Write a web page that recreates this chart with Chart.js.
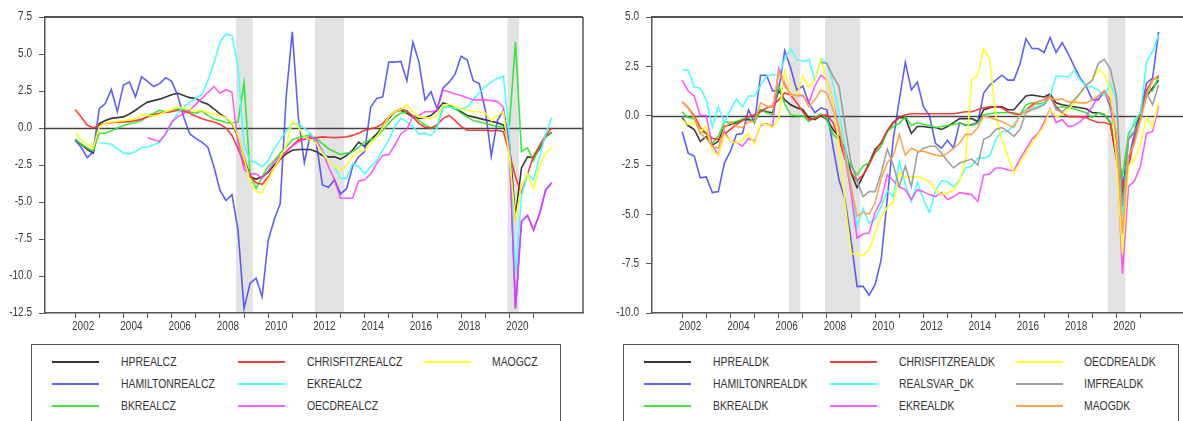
<!DOCTYPE html>
<html>
<head>
<meta charset="utf-8">
<script src="https://cdn.jsdelivr.net/npm/chart.js@4.4.1/dist/chart.umd.min.js"></script>
<style>
  html, body { margin: 0; padding: 0; background: #fff; }
  body { width: 1183px; height: 421px; overflow: hidden; position: relative;
         font-family: "Liberation Sans", Arial, sans-serif; }
  .panel { position: absolute; top: 0; width: 600px; height: 340px; }
  .legend { position: absolute; top: 344px; height: 110px; border: 1.5px solid #555; box-sizing: border-box; }
  .legend .swatch { position: absolute; width: 47px; height: 2px; }
  .legend .name { position: absolute; font-size: 13px; line-height: 14px; color: #333; white-space: nowrap;
                  transform: scaleX(0.8); transform-origin: left center; }
</style>
</head>
<body>
<div class="panel" style="left:0"><canvas id="czChart" width="600" height="340"></canvas></div>
<div class="panel" style="left:607px"><canvas id="dkChart" width="600" height="340"></canvas></div>
<div class="legend" id="czLegend" style="left:31px;width:530px"></div>
<div class="legend" id="dkLegend" style="left:623px;width:556px"></div>

<script>
// quarterly, 2002Q1 .. 2021Q4
const quarters = Array.from({ length: 80 }, (_, i) => 2002 + i / 4);
const yearTicks = Array.from({ length: 20 }, (_, i) => 2002 + i);

// ---- Czech output gap estimates ----
const hpCZ = [
  -0.82, -1.1, -1.45, -1.7, 0.3, 0.5, 0.65, 0.7, 0.75, 0.95,
  1.2, 1.5, 1.75, 1.85, 1.95, 2.1, 2.25, 2.35, 2.2, 2.05,
  2.0, 1.75, 1.6, 1.3, 0.95, 0.7, 0.3, -0.6, -2.0, -3.3,
  -3.45, -3.3, -3.0, -2.5, -2.1, -1.75, -1.5, -1.45, -1.45, -1.45,
  -1.6, -1.85, -1.95, -1.95, -2.1, -1.85, -1.5, -0.95, -1.25, -0.8,
  -0.4, 0.1, 0.65, 1.1, 1.2, 1.0, 0.75, 0.65, 0.7, 0.85,
  1.2, 1.7, 1.55, 1.3, 1.1, 0.85, 0.75, 0.65, 0.55, 0.45,
  0.35, 0.2, -1.05, -6.0, -2.7, -1.95, -2.0, -1.4, -0.6, -0.3
];
const hamiltonCZ = [
  -0.83, -1.3, -2.0, -1.6, 1.3, 1.65, 2.6, 1.1, 2.9, 3.1,
  2.1, 3.45, 3.15, 2.8, 3.0, 3.4, 3.15, 2.2, 0.75, -0.4,
  -0.7, -0.95, -1.3, -2.6, -4.2, -4.9, -4.5, -6.9, -12.2, -10.5,
  -10.15, -11.4, -7.6, -6.2, -5.1, 2.2, 6.5, 0.75, -2.35, -0.4,
  -1.05, -3.85, -4.0, -3.5, -4.45, -4.1, -2.6, -1.95, -1.6, 1.4,
  2.0, 2.1, 4.45, 4.45, 4.5, 3.2, 5.8, 4.45, 1.9, 2.45,
  1.3, 2.7, 3.1, 3.65, 4.85, 4.6, 3.2, 3.0, 1.2, -1.9,
  0.5, 1.2, -1.0, -12.2, -6.3, -5.9, -6.9, -5.8, -4.2, -3.7
];
const bkCZ = [
  -0.75, -1.1, -1.35, -1.55, -0.35, -0.35, -0.2, 0.0, 0.15, 0.3,
  0.35, 0.5, 0.8, 1.0, 1.2, 1.1, 1.2, 1.3, 1.25, 1.1,
  1.0, 1.15, 0.85, 0.6, 0.5, 0.35, 0.35, 0.4, 3.05, -3.1,
  -4.1, -3.3, -2.6, -2.2, -1.7, -1.3, -0.8, -0.65, -0.55, -0.5,
  -0.7, -1.05, -1.4, -1.6, -1.8, -1.7, -1.6, -1.3, -0.95, -0.8,
  -0.6, -0.15, 0.3, 0.75, 1.0, 1.1, 0.85, 0.5, 0.2, 0.0,
  0.05, 1.4, 1.45, 1.3, 1.0, 0.75, 0.5, 0.4, 0.3, 0.2,
  0.1, 0.05, 0.2, 5.8, -1.6, -1.35, -2.2, -1.3, -0.6, -0.35
];
const chrisfitzCZ = [
  1.25, 0.75, 0.2, 0.0, 0.2, 0.3, 0.35, 0.4, 0.4, 0.45,
  0.5, 0.6, 0.75, 0.9, 1.0, 1.05, 1.1, 1.2, 1.15, 1.0,
  0.8, 0.65, 0.5, 0.4, 0.25, 0.0, -0.5, -1.4, -2.4, -3.2,
  -3.7, -3.8, -3.3, -2.7, -2.1, -1.6, -1.2, -0.8, -0.75, -0.7,
  -0.65, -0.6, -0.62, -0.65, -0.62, -0.6, -0.5, -0.35, -0.15, -0.05,
  0.05, 0.3, 0.75, 1.1, 1.3, 1.15, 0.75, 0.3, 0.05, 0.0,
  0.2, 0.65, 0.85, 0.5, 0.1, -0.15, -0.15, -0.15, -0.15, -0.2,
  -0.15, -0.25, -1.7, -3.3, -4.4, -3.1, -1.9, -1.2, -0.5, 0.0
];
const ekCZ = [
  null, null, null, null, -1.0, -1.05, -1.1, -1.4, -1.7, -1.75,
  -1.6, -1.3, -1.3, -1.15, -0.95, -0.4, 0.3, 1.0, 1.4, 1.75,
  2.0, 2.25, 3.2, 4.35, 5.8, 6.35, 6.25, 4.1, -1.15, -2.2,
  -2.35, -2.6, -2.2, -1.4, -0.8, -0.2, 0.25, 0.3, 0.0, -0.4,
  -0.95, -1.5, -2.2, -2.6, -3.4, -3.4, -2.4, -2.6, -3.1, -2.6,
  -2.2, -1.5, -0.8, 0.1, 0.65, 0.4, 0.1, -0.4, -0.35, -0.5,
  0.0, 1.4, 1.45, 1.3, 1.3, 1.4, 1.9, 2.4, 2.8, 3.1,
  3.35, 3.5, -0.5, -10.0, -4.6, -3.1, -3.5, -1.95, -0.4, 0.7
];
const oecdCZ = [
  null, null, null, null, null, null, null, null, null, null,
  null, null, -0.65, -0.8, -0.9, -0.4, 0.4, 0.75, 1.0, 1.2,
  1.6, 2.0, 2.4, 2.8, 2.35, 2.6, 2.4, -1.0, -2.8, -3.1,
  -3.1, -3.4, -2.9, -2.3, -1.9, -1.6, -1.2, -0.95, -0.75, -0.6,
  -0.8, -1.6, -2.6, -3.5, -4.75, -4.75, -4.75, -3.6, -3.5, -3.1,
  -2.4, -1.85, -1.8, -1.15, -0.4, -0.1, 0.8, 0.85, 1.1, 1.1,
  1.2, 2.55, 2.45, 2.3, 2.2, 2.05, 1.9, 1.9, 1.9, 1.85,
  1.8, 1.4, -1.5, -12.2, -6.3, -5.9, -6.9, -5.8, -4.2, -3.7
];
const maogCZ = [
  -0.3, -0.8, -1.1, -1.35, 0.1, 0.3, 0.4, 0.45, 0.5, 0.55,
  0.6, 0.9, 0.85, 0.8, 0.9, 1.1, 1.25, 1.4, 1.35, 1.25,
  1.15, 1.2, 1.05, 0.95, 0.85, 0.7, 0.35, -0.5, -2.0, -3.6,
  -4.3, -4.4, -3.5, -2.7, -2.0, -1.2, 0.45, 0.1, -0.6, -0.8,
  -1.05, -1.7, -2.2, -2.6, -2.85, -2.5, -1.95, -1.6, -1.5, -1.05,
  -0.6, 0.05, 0.75, 1.1, 1.25, 1.55, 1.1, 0.75, 0.7, 0.65,
  0.85, 1.55, 1.6, 1.45, 1.3, 1.2, 1.1, 1.1, 1.0, 0.5,
  0.85, 1.1, -1.95, -6.2, -3.85, -3.1, -4.1, -2.6, -1.7, -1.3
];

// ---- Danish output gap estimates ----
const hpDK = [
  -0.1, -0.5, -0.7, -1.3, -1.05, -1.5, -1.3, -0.55, -0.45, -0.35,
  -0.2, -0.2, -0.25, 0.3, 0.2, 0.15, 1.3, 0.8, 0.55, 0.4,
  0.3, -0.1, -0.2, 0.0, -0.2, -0.7, -1.05, -1.7, -2.9, -3.65,
  -3.05, -2.4, -1.7, -1.4, -0.8, -0.35, -0.1, -0.1, -0.9, -0.55,
  -0.55, -0.6, -0.6, -0.7, -0.55, -0.35, -0.15, -0.15, -0.15, -0.3,
  0.3, 0.4, 0.45, 0.45, 0.3, 0.3, 0.65, 1.0, 1.05, 1.0,
  0.95, 1.1, 0.65, 0.55, 0.5, 0.45, 0.4, 0.35, 0.15, 0.15,
  0.05, -0.35, -2.2, -4.1, -1.2, -0.8, 0.15, 1.0, 1.4, 1.8
];
const hamiltonDK = [
  -0.8, -1.9, -2.05, -3.15, -3.1, -3.9, -3.85, -2.4, -1.8, -0.95,
  -0.9, 0.3, -0.35, 2.05, 2.05, 1.25, 1.3, 3.3, 2.4, 1.3,
  1.5, 0.65, 0.15, 0.4, 0.3, -1.55, -3.25, -4.25, -6.3, -8.65,
  -8.65, -9.1, -8.55, -7.3, -4.25, -1.2, 0.8, 2.7, 1.3, 1.7,
  0.45, 0.0, -1.4, -1.65, -1.25, -1.65, -0.35, -0.5, -0.45, -0.35,
  1.15, 1.55, 1.8, 2.05, 1.8, 1.8, 2.6, 3.9, 3.4, 3.4,
  3.2, 3.95, 3.2, 3.7, 3.15, 2.5, 1.9, 1.5, 0.8, 0.8,
  1.25, 0.45, -1.2, -3.5, -2.2, -0.9, 0.2, 1.65, 1.9, 4.25
];
const bkDK = [
  0.2, -0.1, -0.15, -0.8, -0.9, -1.4, -1.05, -0.3, -0.35, -0.3,
  -0.2, -0.1, -0.35, 0.3, 0.15, 0.05, 1.5, 0.6, 0.05, 0.0,
  0.0, -0.3, -0.1, 0.1, -0.2, -0.95, -1.2, -2.0, -2.55, -3.0,
  -2.55, -2.4, -1.9, -1.55, -0.8, -0.55, -0.4, -0.05, -0.5, -0.35,
  -0.45, -0.5, -0.6, -0.55, -0.5, -0.45, -0.4, -0.45, -0.5, -0.4,
  0.05, 0.1, 0.15, 0.15, 0.15, 0.15, 0.05, 0.55, 0.65, 0.6,
  0.65, 1.0, 0.4, 0.45, 0.4, 0.35, 0.25, 0.15, -0.1, 0.15,
  0.05, -0.35, -1.9, -3.05, -0.9, -0.45, 0.15, 1.25, 1.25, 2.0
];
const chrisfitzDK = [
  0.7, 0.4, 0.0, -0.6, -0.9, -1.15, -1.2, -0.95, -0.7, -0.45,
  -0.25, -0.05, 0.05, 0.2, 0.4, 0.5, 0.8, 1.15, 1.05, 0.65,
  0.2, -0.2, -0.15, 0.0, 0.05, -0.35, -1.2, -2.2, -2.9, -3.3,
  -3.0, -2.5, -1.8, -1.35, -0.75, -0.35, -0.1, 0.05, 0.1, 0.1,
  0.1, 0.1, 0.1, 0.1, 0.1, 0.1, 0.15, 0.2, 0.2, 0.3,
  0.4, 0.45, 0.45, 0.4, 0.2, 0.1, 0.05, 0.3, 0.55, 0.7,
  0.8, 1.05, 0.45, 0.15, -0.05, -0.05, -0.05, -0.1, -0.25, -0.35,
  -0.35, -0.45, -2.05, -3.6, -2.55, -1.2, 0.0, 1.3, 1.8, 2.0
];
const realsvarDK = [
  2.3, 2.3, 1.45, 1.4, 0.8, -0.6, 0.45, -0.35, 0.3, 0.85,
  0.45, 1.0, 1.0, 1.55, 2.0, 2.1, 2.0, 2.9, 3.35, 2.85,
  2.75, 2.85, 1.8, 2.9, 2.65, 1.65, 0.15, -1.55, -3.6, -5.6,
  -4.7, -5.45, -5.25, -4.6, -3.8, -4.1, -2.3, -3.5, -4.35, -3.4,
  -4.25, -4.9, -3.8, -3.3, -3.35, -3.6, -3.25, -2.65, -2.55, -2.15,
  -2.15, -2.05, -1.2, -0.8, -0.8, -0.45, 0.0, 0.3, 0.4, 0.45,
  0.65, 1.0, 2.0, 2.0, 1.95, 2.3, 1.8, 1.5, 1.45, 1.3,
  1.0, 1.65, 0.8, -5.1, -1.2, -0.2, 0.15, 2.75, 3.25, 4.1
];
const ekDK = [
  1.8, 1.25, 1.0, 0.0, 0.0, -1.5, -2.0, -0.8, -1.3, -1.35,
  -1.55, -1.15, -1.3, -0.5, -0.4, -0.55, 2.4, 1.65, 1.05, 1.05,
  1.0, 0.65, 1.5, 2.05, 1.8, 0.8, -0.7, -2.05, -3.9, -6.2,
  -6.0, -5.95, -4.9, -4.3, -3.0, -3.3, -3.6, -3.75, -4.25, -3.75,
  -3.85, -4.0, -4.1, -3.9, -4.25, -4.1, -3.9, -3.95, -4.0, -4.35,
  -3.0, -2.95, -2.65, -2.65, -2.75, -2.8, -2.2, -1.7, -1.2, -0.9,
  -0.35, 0.35, -0.35, -0.2, -0.55, -0.5, -0.3, 0.0, 0.45, 1.0,
  1.25, 0.8, -1.2, -8.0, -3.6, -3.3, -2.55, -0.9, -0.8, 0.5
];
const oecdDK = [
  -0.2, -0.45, -0.3, -0.8, -0.55, -1.8, -2.0, -0.95, -1.3, -1.4,
  -1.2, -0.9, -1.45, -0.4, -0.45, -0.6, -0.2, 2.25, 1.05, 1.0,
  2.0, 1.45, 1.8, 2.85, 1.8, 0.8, -1.4, -4.4, -7.0, -7.0,
  -7.1, -6.8, -5.95, -5.1, -4.65, -4.4, -2.9, -3.1, -3.1, -3.1,
  -3.2, -3.35, -3.75, -4.0, -3.9, -3.8, -3.3, -2.2, 1.8, 2.05,
  3.4, 2.85, 0.0, -1.2, -2.05, -2.9, -2.4, -1.9, -1.4, -0.95,
  -0.55, 0.3, -0.05, 0.05, 0.3, 0.65, 1.15, 1.55, 1.8, 2.35,
  2.1, 1.35, -2.2, -7.0, -2.55, -2.2, -1.4, -0.1, -0.55, 0.65
];
const imfDK = [
  null, null, null, null, null, null, null, null, null, null,
  null, null, null, null, null, null, null, null, null, null,
  null, null, null, 2.7, 2.65, 2.0, 1.5, -0.5, -2.4, -3.3,
  -4.1, -3.85, -3.85, -2.9, -1.7, -2.5, -3.6, -2.55, -3.6, -1.9,
  -1.65, -1.55, -1.55, -1.9, -2.3, -2.65, -2.4, -2.3, -2.2, -2.5,
  -1.2, -1.05, -0.7, -0.6, -0.8, -1.05, -0.7, 0.15, 0.3, 0.4,
  0.55, 1.0, 0.3, 0.2, 0.45, 0.8, 1.15, 1.55, 1.8, 2.65,
  2.85, 2.35, 1.0, -4.6, -1.2, -0.8, -0.2, 1.15, 0.55, 1.55
];
const maogDK = [
  0.7, 0.4, -0.1, -0.9, -1.15, -1.55, -1.65, -0.6, -0.35, -0.55,
  -0.6, -0.3, -0.3, 0.65, 0.5, 0.4, 2.25, 1.5, 1.1, 1.0,
  1.05, 0.45, 0.8, 1.3, 1.15, 0.3, -0.55, -2.05, -3.6, -5.1,
  -4.9, -5.0, -4.4, -3.2, -2.4, -2.05, -0.95, -2.0, -1.65, -1.8,
  -1.8, -1.9, -2.0, -2.05, -1.9, -1.65, -1.4, -0.95, -0.95, -0.6,
  0.0, -0.1, -0.2, -0.3, -0.45, -0.6, 0.0, 0.2, 0.45, 0.7,
  0.8, 0.9, 0.8, 0.85, 0.7, 0.7, 0.65, 0.65, 0.8, 1.0,
  1.25, 0.65, -0.9, -6.0, -2.05, -1.4, -0.2, 1.0, 1.8, 2.05
];

// shaded periods (start, end) in years
const recessionsCZ = [[2008.67, 2009.37], [2011.94, 2013.14], [2019.92, 2020.40]];
const recessionsDK = [[2006.42, 2006.90], [2007.92, 2009.38], [2019.64, 2020.37]];

const colors = {
  hp: 'rgba(20,20,20,0.85)', hamilton: 'rgba(60,60,245,0.82)', bk: 'rgba(40,230,40,0.9)',
  chrisfitz: 'rgba(255,40,40,0.9)', ek: 'rgba(70,255,255,0.95)', oecd: 'rgba(255,50,255,0.8)',
  maog: 'rgba(255,255,30,0.95)', imf: 'rgba(150,150,150,0.9)', orange: 'rgba(255,160,70,0.95)'
};

// column-major legend order; col/row computed from index
const seriesCZ = [
  { name: 'HPREALCZ', data: hpCZ, color: colors.hp },
  { name: 'HAMILTONREALCZ', data: hamiltonCZ, color: colors.hamilton },
  { name: 'BKREALCZ', data: bkCZ, color: colors.bk },
  { name: 'CHRISFITZREALCZ', data: chrisfitzCZ, color: colors.chrisfitz },
  { name: 'EKREALCZ', data: ekCZ, color: colors.ek },
  { name: 'OECDREALCZ', data: oecdCZ, color: colors.oecd },
  { name: 'MAOGCZ', data: maogCZ, color: colors.maog },
];
const seriesDK = [
  { name: 'HPREALDK', data: hpDK, color: colors.hp },
  { name: 'HAMILTONREALDK', data: hamiltonDK, color: colors.hamilton },
  { name: 'BKREALDK', data: bkDK, color: colors.bk },
  { name: 'CHRISFITZREALDK', data: chrisfitzDK, color: colors.chrisfitz },
  { name: 'REALSVAR_DK', data: realsvarDK, color: colors.ek },
  { name: 'EKREALDK', data: ekDK, color: colors.oecd },
  { name: 'OECDREALDK', data: oecdDK, color: colors.maog },
  { name: 'IMFREALDK', data: imfDK, color: colors.imf },
  { name: 'MAOGDK', data: maogDK, color: colors.orange },
];

const FONT = '"Liberation Sans", Arial, sans-serif';
Chart.defaults.font.family = FONT;

const framePlugin = {
  id: 'frame',
  beforeDatasetsDraw(chart, args, opts) {
    const { ctx, chartArea: a, scales: { x, y } } = chart;
    ctx.save();
    ctx.fillStyle = '#e2e2e2';
    opts.bands.forEach(([s, e]) => {
      const x0 = x.getPixelForValue(s), x1 = x.getPixelForValue(e);
      ctx.fillRect(x0, a.top + 1, x1 - x0, a.bottom - a.top - 2);
    });
    const y0 = Math.round(y.getPixelForValue(0)) + 0.5;
    ctx.strokeStyle = '#444';
    ctx.lineWidth = 1.5;
    ctx.beginPath();
    ctx.moveTo(a.left, y0);
    ctx.lineTo(a.right, y0);
    ctx.stroke();
    ctx.restore();
  },
  afterDraw(chart) {
    const { ctx, chartArea: a, scales: { x, y } } = chart;
    ctx.save();
    ctx.strokeStyle = '#555';
    ctx.lineWidth = 2;
    ctx.beginPath();
    ctx.moveTo(a.left, a.top);
    ctx.lineTo(a.right, a.top);
    ctx.stroke();
    ctx.lineWidth = 1.5;
    ctx.beginPath();
    ctx.moveTo(a.right, a.top);
    ctx.lineTo(a.right, a.bottom);
    ctx.stroke();

    // narrow tick labels (EViews style)
    ctx.fillStyle = '#3a3a3a';
    ctx.font = '12.5px ' + FONT;
    ctx.textBaseline = 'middle';
    ctx.textAlign = 'right';
    y.ticks.forEach(t => {
      ctx.save();
      ctx.translate(y.right - 13, y.getPixelForValue(t.value));
      ctx.scale(0.8, 1);
      ctx.fillText(t.value.toFixed(1), 0, 0);
      ctx.restore();
    });
    ctx.textAlign = 'center';
    x.ticks.forEach(t => {
      if (t.value % 2 !== 0) return;
      ctx.save();
      ctx.translate(x.getPixelForValue(t.value) + 8, x.top + 14);
      ctx.scale(0.8, 1);
      ctx.fillText(String(t.value), 0, 0);
      ctx.restore();
    });
    ctx.restore();
  }
};

function makeChart(id, series, yMin, yMax, bands) {
  const datasets = series.map((s, i) => ({
    label: s.name,
    data: quarters.map((q, k) => ({ x: q, y: s.data[k] })),
    borderColor: s.color,
    borderWidth: 1.6,
    pointRadius: 0,
    tension: 0,
    fill: false,
    order: series.length - i,
  }));

  return new Chart(document.getElementById(id), {
    type: 'line',
    data: { datasets },
    options: {
      responsive: false,
      animation: false,
      events: [],
      layout: { padding: { top: 17, right: 17, left: 0, bottom: 0 } },
      plugins: { legend: { display: false }, tooltip: { enabled: false }, frame: { bands } },
      scales: {
        x: {
          type: 'linear',
          min: 2000.75,
          max: 2023.05,
          afterBuildTicks: scale => { scale.ticks = yearTicks.map(v => ({ value: v })); },
          afterFit: scale => { scale.height = 27; },
          grid: { drawOnChartArea: false, drawTicks: true, tickLength: 5, color: '#555' },
          border: { color: '#555', width: 1.5 },
          ticks: { display: false },
        },
        y: {
          min: yMin,
          max: yMax,
          afterFit: scale => { scale.width = 45; },
          grid: { drawOnChartArea: false, drawTicks: true, tickLength: 6, color: '#555' },
          border: { color: '#555', width: 1.5 },
          ticks: { stepSize: 2.5, display: false },
        },
      },
    },
    plugins: [framePlugin],
  });
}

function buildLegend(id, series) {
  const box = document.getElementById(id);
  series.forEach((s, i) => {
    const col = Math.floor(i / 3), row = i % 3;
    const cy = 17 + row * 21.8;
    const sw = document.createElement('div');
    sw.className = 'swatch';
    sw.style.left = (20 + col * 186) + 'px';
    sw.style.top = (cy - 1) + 'px';
    sw.style.background = s.color;
    box.appendChild(sw);
    const tx = document.createElement('div');
    tx.className = 'name';
    tx.style.left = (89 + col * 185.5) + 'px';
    tx.style.top = (cy - 7) + 'px';
    tx.textContent = s.name;
    box.appendChild(tx);
  });
}

makeChart('czChart', seriesCZ, -12.5, 7.5, recessionsCZ);
makeChart('dkChart', seriesDK, -10, 5, recessionsDK);
buildLegend('czLegend', seriesCZ);
buildLegend('dkLegend', seriesDK);
</script>
</body>
</html>
